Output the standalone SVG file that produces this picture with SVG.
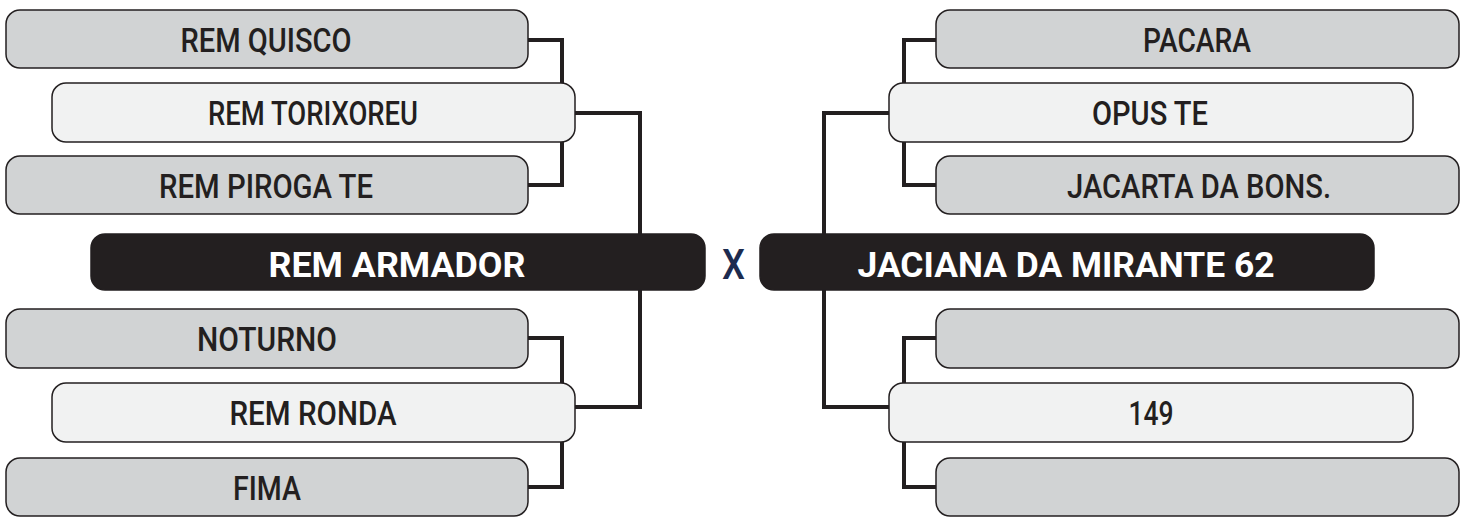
<svg xmlns="http://www.w3.org/2000/svg" width="1467" height="518" viewBox="0 0 1467 518">
<style>
.g{fill:#d1d3d4;stroke:#231f20;stroke-width:1.5}
.l{fill:#f1f2f2;stroke:#231f20;stroke-width:1.5}
.b{fill:#231f20;stroke:#231f20;stroke-width:1.5}
.t{font-family:Roboto,"Liberation Sans",sans-serif;font-weight:500;font-size:33px;fill:#231f20;text-anchor:middle}
.h{font-family:Roboto,"Liberation Sans",sans-serif;font-weight:700;font-size:35px;fill:#ffffff;text-anchor:middle}
.x{font-family:Roboto,"Liberation Sans",sans-serif;font-weight:500;font-size:43px;fill:#1c2b4f;text-anchor:middle}
.c{fill:none;stroke:#231f20;stroke-width:4;stroke-linejoin:miter}
</style>
<g id="connectors">
<path class="c" d="M528 40H562V83M562 142V185H528"/>
<path class="c" d="M575 113H640V234M640 290V407H575"/>
<path class="c" d="M528 338H562V383M562 442V487H528"/>
<path class="c" d="M936 40H904V83M904 142V185H936"/>
<path class="c" d="M889 113H824V234M824 290V407H889"/>
<path class="c" d="M936 338H904V383M904 442V487H936"/>
</g>
<g id="rem-quisco"><rect class="g" x="6" y="10" width="522" height="58" rx="14"/><text class="t" x="266" y="51.5" textLength="171" lengthAdjust="spacingAndGlyphs">REM QUISCO</text></g>
<g id="rem-torixoreu"><rect class="l" x="52" y="83" width="523" height="59" rx="14"/><text class="t" x="313" y="125" textLength="210" lengthAdjust="spacingAndGlyphs">REM TORIXOREU</text></g>
<g id="rem-piroga-te"><rect class="g" x="6" y="156" width="522" height="58" rx="14"/><text class="t" x="266" y="197.5" textLength="214" lengthAdjust="spacingAndGlyphs">REM PIROGA TE</text></g>
<g id="rem-armador"><rect class="b" x="91" y="234" width="614" height="56" rx="14"/><text class="h" x="397" y="277" textLength="257" lengthAdjust="spacingAndGlyphs">REM ARMADOR</text></g>
<g id="noturno"><rect class="g" x="6" y="309" width="522" height="59" rx="14"/><text class="t" x="267" y="350.5" textLength="140" lengthAdjust="spacingAndGlyphs">NOTURNO</text></g>
<g id="rem-ronda"><rect class="l" x="52" y="383" width="523" height="59" rx="14"/><text class="t" x="313" y="424.5" textLength="167" lengthAdjust="spacingAndGlyphs">REM RONDA</text></g>
<g id="fima"><rect class="g" x="6" y="458" width="522" height="58" rx="14"/><text class="t" x="267" y="499.5" textLength="68" lengthAdjust="spacingAndGlyphs">FIMA</text></g>
<g id="versus"><text class="x" x="733.5" y="279" textLength="23" lengthAdjust="spacingAndGlyphs">X</text></g>
<g id="jaciana"><rect class="b" x="760" y="234" width="614" height="56" rx="14"/><text class="h" x="1066" y="277" textLength="417" lengthAdjust="spacingAndGlyphs">JACIANA DA MIRANTE 62</text></g>
<g id="pacara"><rect class="g" x="936" y="10" width="523" height="58" rx="14"/><text class="t" x="1197" y="51.5" textLength="108" lengthAdjust="spacingAndGlyphs">PACARA</text></g>
<g id="opus-te"><rect class="l" x="889" y="83" width="524" height="59" rx="14"/><text class="t" x="1150" y="125" textLength="116" lengthAdjust="spacingAndGlyphs">OPUS TE</text></g>
<g id="jacarta"><rect class="g" x="936" y="156" width="523" height="58" rx="14"/><text class="t" x="1199" y="197.5" textLength="264" lengthAdjust="spacingAndGlyphs">JACARTA DA BONS.</text></g>
<g id="empty-1"><rect class="g" x="936" y="309" width="523" height="59" rx="14"/></g>
<g id="n149"><rect class="l" x="889" y="383" width="524" height="59" rx="14"/><text class="t" x="1151" y="424.5" textLength="45" lengthAdjust="spacingAndGlyphs">149</text></g>
<g id="empty-2"><rect class="g" x="936" y="458" width="523" height="58" rx="14"/></g>
</svg>
